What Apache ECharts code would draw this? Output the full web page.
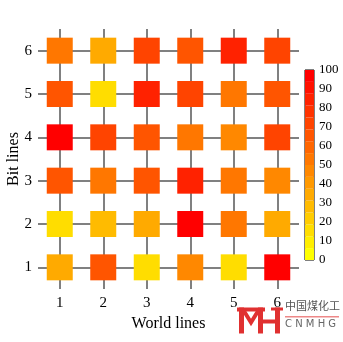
<!DOCTYPE html>
<html><head><meta charset="utf-8">
<script src="https://cdn.jsdelivr.net/npm/echarts@6/dist/echarts.min.js"></script>
<style>html,body{margin:0;padding:0;background:#fff}#c{width:343px;height:342px}</style>
</head><body><div id="c"></div>
<script>
var worldLines = [1, 2, 3, 4, 5, 6];
var bitLines = [1, 2, 3, 4, 5, 6];
// values[row] for bit line 1..6, columns world line 1..6
var row1 = [34, 66, 16, 47, 16, 97];
var row2 = [16, 28, 34, 97, 53, 34];
var row3 = [66, 53, 66, 84, 53, 47];
var row4 = [97, 72, 66, 53, 47, 72];
var row5 = [66, 16, 84, 72, 53, 66];
var row6 = [53, 34, 72, 66, 84, 72];
var rows = [row1, row2, row3, row4, row5, row6];
var colorTicks = [0, 10, 20, 30, 40, 50, 60, 70, 80, 90, 100];
var nLevels = 16;

var levelColors = [];
for (var j = 0; j < nLevels; j++) {
  levelColors.push('rgb(255,' + (255 - 17 * j) + ',0)');
}
var pieces = [];
for (var j = 0; j < nLevels; j++) {
  pieces.push({gte: j * 100 / nLevels, lt: (j + 1) * 100 / nLevels + (j === nLevels - 1 ? 0.001 : 0), color: levelColors[j]});
}
var pts = [];
rows.forEach(function (r, yi) {
  r.forEach(function (v, xi) { pts.push([worldLines[xi], bitLines[yi], v]); });
});

var serif = '"Liberation Serif", "DejaVu Serif", serif';
var series = [];
series.push({
  type: 'line', xAxisIndex: 0, yAxisIndex: 0, data: [], z: 1, silent: true,
  markLine: {
    silent: true, symbol: 'none', animation: false,
    label: {show: false},
    lineStyle: {color: '#808080', width: 2, type: 'solid'},
    data: worldLines.map(function (x) { return {xAxis: x}; }).concat(bitLines.map(function (y) { return {yAxis: y}; }))
  }
});
series.push({
  type: 'scatter', xAxisIndex: 0, yAxisIndex: 0, symbol: 'rect', symbolSize: 26, z: 5,
  data: pts, itemStyle: {opacity: 1}
});
for (var j = 0; j < nLevels; j++) {
  series.push({
    type: 'bar', xAxisIndex: 1, yAxisIndex: 1, stack: 'cb', barWidth: '100%', silent: true,
    data: [100 / nLevels], itemStyle: {color: levelColors[j]}
  });
}

var chart = echarts.init(document.getElementById('c'), null, {renderer: 'canvas'});
chart.setOption({
  animation: false,
  backgroundColor: '#fff',
  grid: [
    {left: 38, top: 29, width: 261, height: 260, outerBoundsMode: 'none', containLabel: false},
    {left: 305, top: 70, width: 9, height: 190, outerBoundsMode: 'none', containLabel: false, show: true, borderColor: '#000', borderWidth: 1, backgroundColor: 'transparent'}
  ],
  visualMap: {type: 'piecewise', show: false, seriesIndex: 1, dimension: 2, pieces: pieces},
  xAxis: [
    {type: 'value', gridIndex: 0, min: 0.5, max: 6.5,
     axisLine: {show: false}, axisTick: {show: false}, splitLine: {show: false},
     axisLabel: {customValues: worldLines, color: '#000', fontFamily: serif, fontSize: 15, margin: 7},
     name: 'World lines', nameLocation: 'middle', nameGap: 25,
     nameTextStyle: {color: '#000', fontFamily: serif, fontSize: 16}},
    {type: 'category', gridIndex: 1, data: [''], show: false}
  ],
  yAxis: [
    {type: 'value', gridIndex: 0, min: 0.5, max: 6.5,
     axisLine: {show: false}, axisTick: {show: false}, splitLine: {show: false},
     axisLabel: {customValues: bitLines, color: '#000', fontFamily: serif, fontSize: 15, margin: 6},
     name: 'Bit lines', nameLocation: 'middle', nameGap: 16, nameMoveOverlap: false,
     nameTextStyle: {color: '#000', fontFamily: serif, fontSize: 16}},
    {type: 'value', gridIndex: 1, min: 0, max: 100, interval: 10, position: 'right',
     axisLine: {show: false}, axisTick: {show: false}, splitLine: {show: false},
     axisLabel: {color: '#000', fontFamily: serif, fontSize: 13, margin: 5}}
  ],
  graphic: [
    {type: 'group', left: 237, top: 307, children: [
      {type: 'rect', shape: {x: 0, y: 0, width: 28, height: 4}, style: {fill: '#e03030'}},
      {type: 'rect', shape: {x: 2, y: 0, width: 5, height: 26}, style: {fill: '#e03030'}},
      {type: 'rect', shape: {x: 21, y: 0, width: 5, height: 26}, style: {fill: '#e03030'}},
      {type: 'polyline', shape: {points: [[6, 2], [14, 15], [22, 2]]}, style: {stroke: '#e03030', lineWidth: 4, fill: null}},
      {type: 'rect', shape: {x: 26, y: 12, width: 14, height: 4}, style: {fill: '#e03030'}},
      {type: 'rect', shape: {x: 38, y: 0, width: 5, height: 26}, style: {fill: '#e03030'}},
      {type: 'rect', shape: {x: 34, y: 0, width: 12, height: 3}, style: {fill: '#e03030'}}
    ]},
    {type: 'text', left: 285, top: 300, style: {text: '中国煤化工', fill: '#555', font: '11px "Noto Sans CJK SC"'}},
    {type: 'rect', shape: {x: 285, y: 316, width: 54, height: 1.5}, style: {fill: '#e88'}},
    {type: 'text', left: 285, top: 319, style: {text: 'C N M H G', fill: '#666', font: '10px "DejaVu Sans"'}}
  ],
  series: series
});
</script></body></html>
